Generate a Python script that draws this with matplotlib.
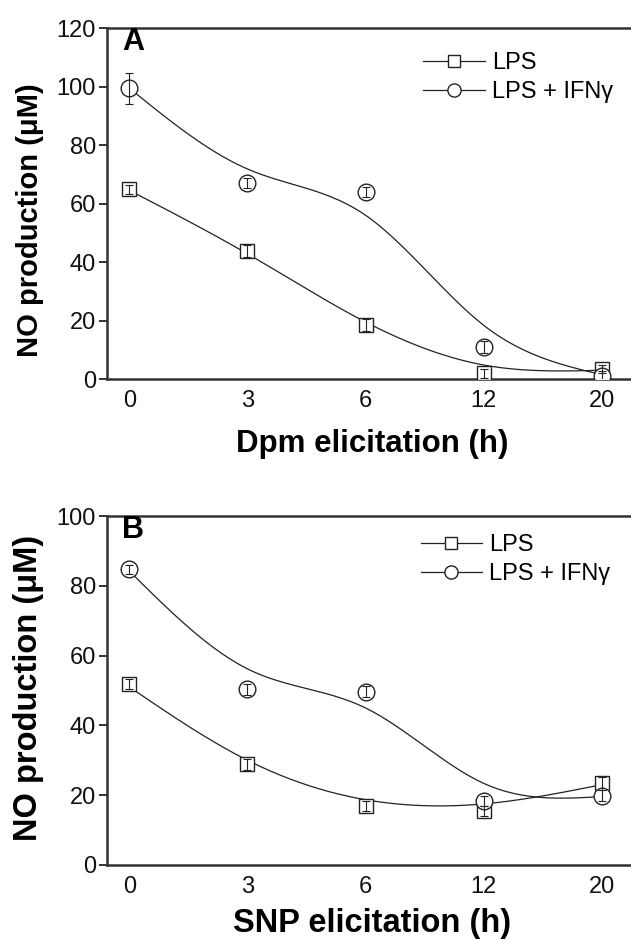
import numpy as np
import matplotlib
matplotlib.use("Agg")
import matplotlib.pyplot as plt
from matplotlib.lines import Line2D

plt.rcParams['font.family'] = ['Liberation Sans', 'DejaVu Sans']

hours = ['0', '3', '6', '12', '20']

# panel A (Dpm)
a_lps = [64.8, 43.7, 18.4, 2.0, 3.4]
a_lps_err = [1.5, 2.0, 2.0, 1.5, 1.5]
a_ifn = [99.4, 67.1, 64.0, 11.0, 1.1]
a_ifn_err = [5.3, 1.8, 1.8, 2.0, 1.5]
a_lps_fit = [64.5, 42.8, 19.5, 4.8, 3.0]
a_ifn_fit = [99.4, 71.8, 56.0, 18.4, 1.5]

# panel B (SNP)
b_lps = [51.8, 28.8, 16.9, 15.5, 23.4]
b_lps_err = [1.5, 1.5, 1.5, 1.5, 1.8]
b_ifn = [84.7, 50.3, 49.7, 18.3, 19.9]
b_ifn_err = [1.2, 1.5, 1.5, 1.5, 1.5]
b_lps_fit = [51.0, 30.0, 18.7, 17.5, 23.0]
b_ifn_fit = [84.2, 56.2, 45.0, 23.4, 19.6]


def natural_spline(x, y, n=200):
    x = np.asarray(x, float)
    y = np.asarray(y, float)
    m = len(x)
    h = np.diff(x)
    A = np.zeros((m, m))
    r = np.zeros(m)
    A[0, 0] = A[-1, -1] = 1
    for i in range(1, m - 1):
        A[i, i - 1] = h[i - 1]
        A[i, i] = 2 * (h[i - 1] + h[i])
        A[i, i + 1] = h[i]
        r[i] = 6 * ((y[i + 1] - y[i]) / h[i] - (y[i] - y[i - 1]) / h[i - 1])
    M = np.linalg.solve(A, r)
    xs = np.linspace(x[0], x[-1], n)
    ys = np.empty_like(xs)
    for k, t in enumerate(xs):
        i = min(np.searchsorted(x, t, side='right') - 1, m - 2)
        dx1 = x[i + 1] - t
        dx0 = t - x[i]
        ys[k] = (M[i] * dx1**3 + M[i + 1] * dx0**3) / (6 * h[i]) \
            + (y[i] / h[i] - M[i] * h[i] / 6) * dx1 \
            + (y[i + 1] / h[i] - M[i + 1] * h[i] / 6) * dx0
    return xs, ys


fig = plt.figure(figsize=(6.31, 9.41), dpi=100)
axA = fig.add_axes([0.1696, 0.5972, 0.84, 0.373])
axB = fig.add_axes([0.1696, 0.0808, 0.84, 0.3708])

lc = '#222222'


def panel(ax, lps, lps_err, ifn, ifn_err, lps_fit, ifn_fit, ymax, letter, xlabel,
          ylab_size, ylab_y, xlab_size, xlab_pad, leg_anchor):
    xi = np.arange(len(hours))
    for fit in (lps_fit, ifn_fit):
        xs, ys = natural_spline(xi, fit)
        ax.plot(xs, ys, color=lc, lw=0.9, zorder=2)
    ax.plot(xi, lps, 's', ms=10, mfc='white', mec=lc, mew=1.0, zorder=3)
    ax.plot(xi, ifn, 'o', ms=12, mfc='white', mec=lc, mew=1.0, zorder=4)
    ax.errorbar(xi, lps, yerr=lps_err, fmt='none', ecolor=lc, elinewidth=0.8,
                capsize=3, capthick=0.8, zorder=5)
    ax.errorbar(xi, ifn, yerr=ifn_err, fmt='none', ecolor=lc, elinewidth=0.8,
                capsize=3, capthick=0.8, zorder=5)
    ax.set_xlim(-0.19, 4.3)
    ax.set_ylim(0, ymax)
    ax.set_xticks(xi)
    ax.set_xticklabels(hours)
    ax.set_yticks(np.arange(0, ymax + 1, 20))
    ax.tick_params(axis='x', length=0, pad=8, labelsize=17, colors='#111111')
    ax.tick_params(axis='y', length=6, width=1.2, pad=2, labelsize=17, colors='#111111')
    for s in ['left', 'bottom', 'top']:
        ax.spines[s].set_linewidth(1.8)
        ax.spines[s].set_color('#333333')
    ax.spines['right'].set_visible(False)
    ax.set_ylabel('NO production (μM)', fontsize=ylab_size, fontweight='bold')
    ax.yaxis.set_label_coords(-0.118, ylab_y)
    ax.set_xlabel(xlabel, fontsize=xlab_size, fontweight='bold', labelpad=xlab_pad)
    ax.text(0.028, 0.96, letter, transform=ax.transAxes, fontsize=22,
            fontweight='bold', va='center', ha='left')
    handles = [
        Line2D([], [], color=lc, lw=0.9, marker='s', ms=8.5, mfc='white', mec=lc, mew=1.0),
        Line2D([], [], color=lc, lw=0.9, marker='o', ms=9.5, mfc='white', mec=lc, mew=1.0),
    ]
    ax.legend(handles, ['LPS', 'LPS + IFNγ'], loc='upper left', bbox_to_anchor=leg_anchor,
              frameon=False, fontsize=17, handlelength=2.6, handletextpad=0.3,
              labelspacing=0.32, borderaxespad=0)


panel(axA, a_lps, a_lps_err, a_ifn, a_ifn_err, a_lps_fit, a_ifn_fit, 120, 'A',
      'Dpm elicitation (h)', 21, 0.453, 22.5, 12, (0.579, 0.959))
panel(axB, b_lps, b_lps_err, b_ifn, b_ifn_err, b_lps_fit, b_ifn_fit, 100, 'B',
      'SNP elicitation (h)', 23.5, 0.507, 23.5, 7, (0.574, 0.976))

fig.savefig('out.png', dpi=100)
